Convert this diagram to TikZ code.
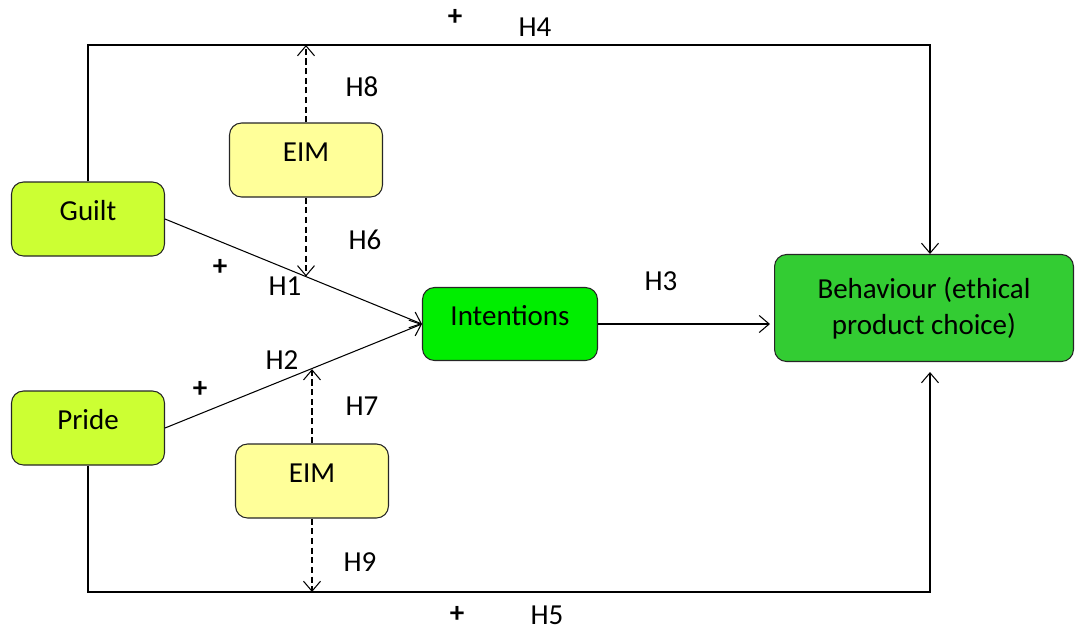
\documentclass[tikz,border=0pt]{standalone}
\usepackage{fontspec}
\setmainfont{Carlito}
\usetikzlibrary{arrows.meta}

\definecolor{emolime}{HTML}{CCFF33}
\definecolor{eimyellow}{HTML}{FFFF99}
\definecolor{intgreen}{HTML}{00EE00}
\definecolor{behgreen}{HTML}{33CC33}

\tikzset{
  construct/.style={rectangle,rounded corners=0.24cm,draw=black!85,line width=0.6pt,align=center},
  onelinebox/.style={construct,text height=0.4cm,text depth=0.36cm},
  emotion/.style={onelinebox,fill=emolime,minimum width=3.06cm,minimum height=1.48cm},
  moderator/.style={onelinebox,fill=eimyellow,minimum width=3.06cm,minimum height=1.48cm},
  modline/.style={->,dash pattern=on 3.5pt off 2pt},
  hyp/.style={inner sep=1pt}
}

\begin{document}
\begin{tikzpicture}[x=0.02cm,y=-0.02cm,font=\fontsize{16.5}{20.5}\selectfont,
    >={Straight Barb[length=0.2cm,width=0.34cm]},line width=0.6pt]

      \useasboundingbox (0,0) rectangle (1076,630);

      \node[emotion] (Guilt) at (88,219){Guilt};
      \node[emotion] (Pride) at (88,428){Pride};
      \node[moderator] (EIMa) at (306,160){EIM};
      \node[moderator] (EIMb) at (312,481){EIM};
      \node[onelinebox,fill=intgreen,minimum width=3.5cm,minimum height=1.46cm] (Intentions) at (510,324){Intentions};
      \node[construct,fill=behgreen,minimum width=5.98cm,minimum height=2.14cm] (Behaviour) at (924,308){Behaviour (ethical\\product choice)};

      \coordinate (topR) at (930,45);
      \coordinate (botR) at (930,592);

      \draw[->] (Guilt.east) -- coordinate[pos=0.547] (h1mid) (Intentions.west);
      \draw[->] (Pride.east) -- coordinate[pos=0.566] (h2mid) (Intentions.west);
      \draw[->,shorten >=0.08cm] (Intentions.east) -- (Intentions.east -| Behaviour.west);

      \draw[->] (Guilt.north) |- (topR) -- (Behaviour.north -| topR);
      \draw[->,shorten >=0.2cm] (Pride.south) |- (botR) -- (Behaviour.south -| botR);

      \draw[modline] (EIMa.north) -- (EIMa.north |- topR);
      \draw[modline] (EIMa.south) -- (EIMa.south |- h1mid);
      \draw[modline] (EIMb.north) -- (EIMb.north |- h2mid);
      \draw[modline] (EIMb.south) -- (EIMb.south |- botR);

      \node[hyp] (plusH4) at (455,17){\textbf{+}};
      \node[hyp] (labH4) at (535,27){H4};
      \node[hyp] (labH8) at (362,87){H8};
      \node[hyp] (labH6) at (365,240){H6};
      \node[hyp] (plusH1) at (220,267){\textbf{+}};
      \node[hyp] (labH1) at (285,286){H1};
      \node[hyp] (labH3) at (661,281){H3};
      \node[hyp] (labH2) at (282,360){H2};
      \node[hyp] (plusH2) at (200,389){\textbf{+}};
      \node[hyp] (labH7) at (362,406){H7};
      \node[hyp] (labH9) at (360,562){H9};
      \node[hyp] (plusH5) at (457,614){\textbf{+}};
      \node[hyp] (labH5) at (547,615){H5};

\end{tikzpicture}
\end{document}
